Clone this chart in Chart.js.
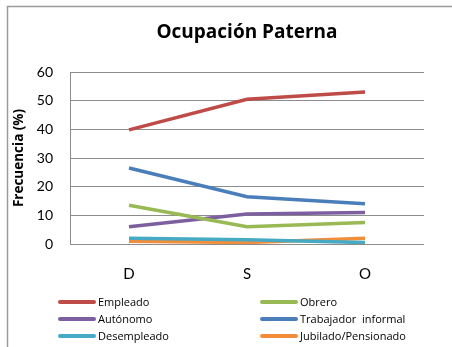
<!DOCTYPE html>
<html>
<head>
<meta charset="utf-8">
<script src="https://cdn.jsdelivr.net/npm/chart.js@4/dist/chart.umd.min.js"></script>
<style>
  html, body { margin: 0; padding: 0; background: #fff; }
  #wrap { width: 452px; height: 347px; position: relative; }
</style>
</head>
<body>
<div id="wrap"><canvas id="chart-ocupacion"></canvas></div>
<script>
// Ocupación paterna por grupo (%)
const categorias = ['D', 'S', 'O'];
const empleado = [39.8, 50.5, 53];
const obrero = [13.5, 6, 7.5];
const autonomo = [6, 10.5, 11];
const trabajadorInformal = [26.5, 16.5, 14];
const desempleado = [2, 1.5, 0.5];
const jubilado = [1, 0.5, 2];

const FONT = 'Lato, "Open Sans", sans-serif';
const FONT_WIDE = '"Open Sans", Lato, sans-serif';

const series = [
  { label: 'Empleado', data: empleado, color: '#BE4B48' },
  { label: 'Obrero', data: obrero, color: '#98B954' },
  { label: 'Autónomo', data: autonomo, color: '#7D5FA0' },
  { label: 'Trabajador  informal', data: trabajadorInformal, color: '#4A7EBB' },
  { label: 'Desempleado', data: desempleado, color: '#46AAC5' },
  { label: 'Jubilado/Pensionado', data: jubilado, color: '#F28E3B' }
];

// frame, title and two-column legend
const decorations = {
  id: 'decorations',
  beforeDraw(chart) {
    const ctx = chart.ctx;
    ctx.save();
    ctx.strokeStyle = '#9a9a9a';
    ctx.lineWidth = 1.5;
    ctx.strokeRect(7.5, 6.5, 470, 370);
    ctx.restore();
  },
  afterDraw(chart) {
    const ctx = chart.ctx;
    const area = chart.chartArea;
    ctx.save();
    ctx.fillStyle = '#000';
    ctx.font = 'bold 19px ' + FONT_WIDE;
    ctx.textAlign = 'center';
    ctx.textBaseline = 'middle';
    ctx.fillText('Ocupación Paterna', (area.left + area.right) / 2, 33);

    const cols = [58, 260];
    const rows = [302, 319, 336];
    ctx.font = '11px ' + FONT_WIDE;
    ctx.textAlign = 'left';
    chart.data.datasets.forEach((ds, i) => {
      const x = cols[i % 2];
      const y = rows[Math.floor(i / 2)];
      ctx.strokeStyle = ds.borderColor;
      ctx.lineWidth = 4;
      ctx.lineCap = 'round';
      ctx.beginPath();
      ctx.moveTo(x + 2, y);
      ctx.lineTo(x + 36, y);
      ctx.stroke();
      ctx.fillStyle = '#000';
      ctx.fillText(ds.label, x + 40, y + 1);
    });
    ctx.restore();
  }
};

const ctx = document.getElementById('chart-ocupacion').getContext('2d');
new Chart(ctx, {
  type: 'line',
  data: {
    labels: categorias,
    datasets: series.map(s => ({
      label: s.label,
      data: s.data,
      borderColor: s.color,
      backgroundColor: s.color,
      borderWidth: 3.5,
      pointRadius: 0,
      tension: 0,
      fill: false
    }))
  },
  options: {
    responsive: true,
    maintainAspectRatio: false,
    animation: false,
    layout: { padding: { left: 0, top: 72, right: 28, bottom: 0 } },
    plugins: {
      legend: { display: false },
      title: { display: false },
      tooltip: { enabled: false }
    },
    scales: {
      x: {
        offset: true,
        grid: { display: false, drawTicks: false },
        border: { display: false },
        ticks: { padding: 21, color: '#000', font: { family: FONT, size: 15 } },
        afterFit(scale) { scale.height = 347 - 244; }
      },
      y: {
        min: 0,
        max: 60,
        ticks: { stepSize: 10, padding: 17, color: '#000', font: { family: FONT, size: 14 } },
        grid: { color: '#8c8c8c', lineWidth: 1, drawTicks: false },
        border: { display: true, color: '#8c8c8c', width: 1 },
        title: {
          display: true,
          text: 'Frecuencia (%)',
          color: '#000',
          font: { family: FONT_WIDE, size: 13.5, weight: 'bold' },
          padding: { top: 11, bottom: 0 }
        },
        afterFit(scale) { scale.width = 70; }
      }
    }
  },
  plugins: [decorations]
});
</script>
</body>
</html>
